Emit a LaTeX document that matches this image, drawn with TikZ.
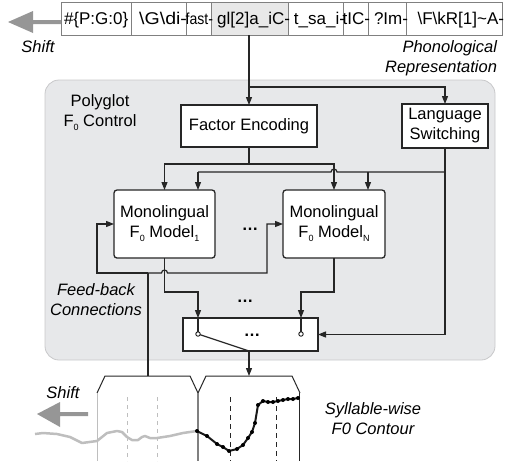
\documentclass[tikz,border=0pt]{standalone}
\usepackage{fontspec}
\setmainfont{Liberation Sans}
\usetikzlibrary{arrows.meta}
\definecolor{panelgray}{RGB}{231,232,234}
\definecolor{paneledge}{RGB}{200,200,202}
\definecolor{cellgray}{RGB}{232,232,232}
\definecolor{bigarrow}{RGB}{150,150,150}
\definecolor{oldcontour}{RGB}{190,190,190}
\newcommand\lowsub[1]{\raisebox{-0.45ex}{\fontsize{9}{9}\selectfont #1}}
\begin{document}
\begin{tikzpicture}[x=1pt,y=-1pt,
  every node/.style={inner sep=0pt, outer sep=0pt},
  conn/.style={line width=1.2pt, draw=black!85},
  arr/.style={conn, -{Triangle[length=8pt,width=6pt]}},
  box/.style={draw=black!85, line width=1.3pt, fill=white, align=center, font=\fontsize{16.5}{20}\selectfont},
  lbl/.style={align=center, font=\fontsize{16.5}{20}\selectfont},
  ilbl/.style={align=center, font=\fontsize{16.5}{20}\selectfont\itshape},
  tok/.style={anchor=base east, font=\fontsize{17}{20}\selectfont},
  dotsl/.style={anchor=base, font=\fontsize{16.5}{20}\selectfont\bfseries},
  cell/.style={draw=black!50, line width=0.8pt},
]
\useasboundingbox (0,0) rectangle (505,461);

% panel
\node (panel) [draw=paneledge, fill=panelgray, line width=0.8pt, rounded corners=14pt,
  minimum width=450pt, minimum height=280pt] at (270,220) {};

% token row
\fill[cellgray] (211,2) rectangle (288,35);
\draw[cell] (61,2) rectangle (502,35);
\foreach \s in {131,186,211,288,343,368,406} \draw[cell] (\s,2) -- (\s,35);
\node (t1) [anchor=base west, font=\fontsize{17}{20}\selectfont] at (64,24) {\#\{P:G:0\}};
\node (t2) [tok] at (187,24) {\scalebox{1.15}[1]{\textbackslash G\textbackslash di-}};
\node (t3) [tok, font=\fontsize{16}{20}\selectfont] at (213,24) {\scalebox{0.88}[1]{fast-}};
\node (t4) [tok] at (290,24) {gl[2]a\_iC-};
\node (t5) [tok] at (345,24) {t\_sa\_i-};
\node (t6) [tok] at (370,24) {tIC-};
\node (t7) [tok] at (408,24) {?Im-};
\node (t8) [tok] at (504,24) {\textbackslash F\textbackslash kR[1]\textasciitilde A-};

% top shift arrow
\fill[bigarrow] (61,20) -- (33,20) -- (33,11) -- (8,22) -- (33,33) -- (33,24) -- (61,24) -- cycle;
\node (shift1) [ilbl] at (38,47) {Shift};
\node (phon) [ilbl, align=right, anchor=east] at (497,58) {Phonological\\Representation};
\node (poly) [lbl] at (100,113) {Polyglot\\F\lowsub{0} Control};

% boxes
\node (fe) [box, minimum width=136pt, minimum height=42pt] at (249,126) {Factor Encoding};
\node (ls) [box, minimum width=86pt, minimum height=44pt] at (445,126) {Language\\Switching};
\node (m1) [box, rounded corners=3pt, minimum width=101pt, minimum height=68pt] at (164.5,224) {Monolingual\\F\lowsub{0} Model\lowsub{1}};
\node (mN) [box, rounded corners=3pt, minimum width=102pt, minimum height=68pt] at (334,224) {Monolingual\\F\lowsub{0} Model\lowsub{N}};
\node (sw) [box, minimum width=135pt, minimum height=33pt] at (250.5,334.5) {};
\node (d1) [dotsl] at (250,230) {\dots};
\node (d2) [dotsl] at (245,302) {\dots};
\node (d3) [dotsl] at (252,336) {\dots};

% input connectors
\coordinate (tokbot) at (249,35);
\draw[arr] (tokbot) -- (fe.north);
\draw[arr] (249,87) -| (ls.north);
\draw[conn] (fe.south) -- (249,164);
\draw[arr] (249,164) -| (m1.north);
\draw[arr] (249,164) -| (mN.north);
\draw[conn] (445,172) -- (337,172) arc[start angle=0, end angle=180, radius=3pt] -- (198,172);
\draw[arr] (198,172) -- (198,190);
\draw[arr] (368,172) -- (368,190);
\draw[arr] (ls.south) |- (sw.east);

% model outputs
\draw[arr] (m1.south) -- (164.5,292) -- (198,292) -- (198,318);
\draw[arr] (mN.south) -- (334,292) -- (301,292) -- (301,318);
\node (c1) [circle, draw=black, fill=white, line width=0.8pt, minimum size=4.5pt] at (198,334) {};
\node (c2) [circle, draw=black, fill=white, line width=0.8pt, minimum size=4.5pt] at (301,334) {};
\draw[conn] (198,318) -- (c1.north);
\draw[conn] (301,318) -- (c2.north);
\coordinate (swout) at (249,351);
\draw[conn] (c1) -- (swout);

% feedback
\coordinate (fbtop) at (148,273);
\coordinate (brL) at (148,376);
\coordinate (brR) at (249,376);
\draw[arr] (swout) -- (brR);
\draw[conn] (brL) -- (fbtop);
\draw[arr] (fbtop) -- (161.5,273) arc[start angle=180, end angle=0, radius=3pt] -- (267,273) -- (267,224) -- (mN.west);
\draw[arr] (fbtop) -- (97,273) -- (97,224) -- (m1.west);
\node (fb) [ilbl] at (96,300) {Feed-back\\Connections};

% brackets
\draw[conn, line width=1pt] (97,393) -- (105,376) -- (190,376) -- (198,393) -- (206,376) -- (292,376) -- (300,393);
% grid lines
\draw[draw=oldcontour, line width=1pt] (97,393) -- (97,461);
\draw[draw=oldcontour, line width=0.9pt, dash pattern=on 4pt off 4pt] (127,397) -- (127,461);
\draw[draw=oldcontour, line width=0.9pt, dash pattern=on 4pt off 4pt] (157,397) -- (157,461);
\draw[draw=black!50, line width=1.1pt] (198,393) -- (198,461);
\draw[draw=black!85, line width=1pt, dash pattern=on 5pt off 4pt] (230,397) -- (230,461);
\draw[draw=black!85, line width=1pt, dash pattern=on 5pt off 4pt] (276,397) -- (276,461);
\draw[draw=black!85, line width=1.1pt] (299.5,393) -- (299.5,461);

% bottom shift arrow
\fill[bigarrow] (88,412) -- (60,412) -- (60,402) -- (37,414) -- (60,427) -- (60,416) -- (88,416) -- cycle;
\node (shift2) [ilbl] at (63,393) {Shift};
\node (syl) [ilbl] at (373,419) {Syllable-wise\\F0 Contour};

% contours
\draw[draw=oldcontour, line width=2.5pt, line join=round]
  (35,434) -- (43,433) -- (57,434) -- (70,437) -- (82,443) -- (97,441) -- (107,433)
  -- (117,431) -- (122,432) -- (127,437) -- (132,440) -- (138,440) -- (142,437)
  -- (145,436) -- (150,438) -- (157,438) -- (170,436) -- (183,433) -- (197,431);
\draw[draw=black!90, line width=2pt, line join=round]
  (197,431) -- (207,436) -- (217,444) -- (223,447) -- (229,451) -- (237,449) -- (243,445)
  -- (248,438) -- (252,432) -- (255,423) -- (258,405) -- (263,401) -- (268,402)
  -- (273,402) -- (278,401) -- (283,400) -- (288,399) -- (293,399) -- (298,398);
\foreach \p in {(197,431),(207,436),(217,444),(223,447),(229,451),(237,449),(243,445),
  (248,438),(252,432),(255,423),(258,405),(263,401),(268,402),(273,402),(278,401),
  (283,400),(288,399),(293,399),(298,398)}
  \fill[black] \p circle[radius=2pt];
\end{tikzpicture}
\end{document}
